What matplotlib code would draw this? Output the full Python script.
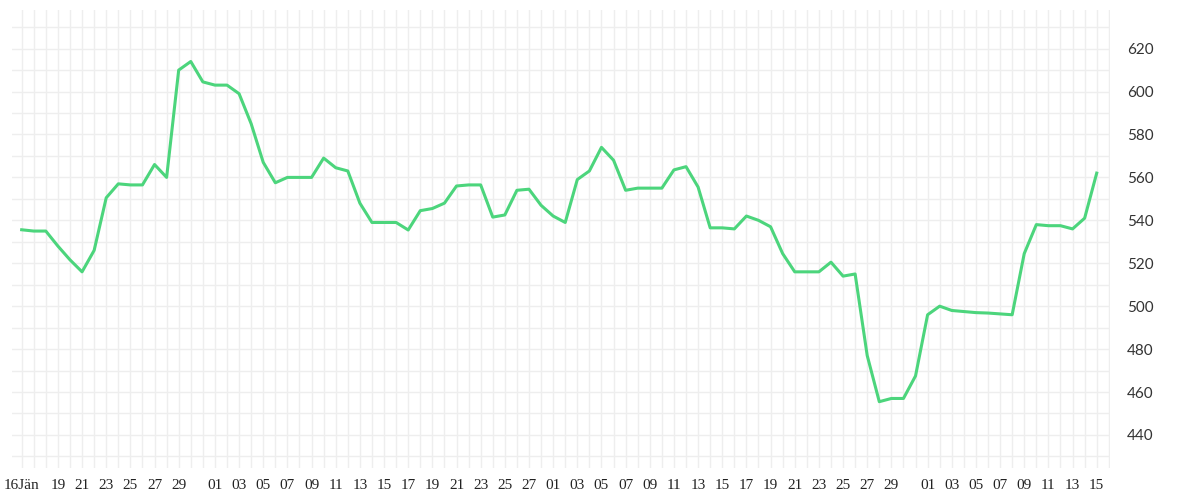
import numpy as np
import pandas as pd
import matplotlib.pyplot as plt
from matplotlib.ticker import MultipleLocator, FixedLocator

dates = pd.date_range('2023-01-16', '2023-04-15', freq='D')
prices = [
    # Jan 16-31
    535.6, 535, 535, 528, 521.6, 516, 526, 550.5, 557, 556.5, 556.5, 566, 560, 610, 614, 604.5,
    # Feb
    603, 603, 599, 585, 567, 557.5, 560, 560, 560, 569, 564.5, 563, 548, 539, 539, 539,
    535.5, 544.5, 545.5, 548, 556, 556.5, 556.5, 541.5, 542.5, 554, 554.5, 547,
    # Mar
    542, 539, 559, 563, 574, 568, 554, 555, 555, 555, 563.5, 565, 555.5, 536.5, 536.5, 536,
    542, 540, 537, 524.5, 516, 516, 516, 520.5, 514, 515, 477, 455.5, 457, 457, 467.5,
    # Apr 1-15
    496, 500, 498, 497.5, 497, 496.8, 496.4, 496, 524.5, 538, 537.5, 537.5, 536, 541, 562,
]

x = np.arange(len(dates))
tick_pos = []
tick_lab = []
for i, d in enumerate(dates):
    if i == 0:
        tick_pos.append(i)
        tick_lab.append('16Jän')
    elif d.day % 2 == 1 and d.day != 31 and i > 1:
        tick_pos.append(i)
        tick_lab.append('%02d' % d.day)

fig = plt.figure(figsize=(12, 5), dpi=100)
ax = fig.add_axes([0.010, 0.064, 0.915, 0.916])
ax.plot(x, prices, color='#4cd57c', lw=2.2, zorder=3)

ax.set_xlim(-0.8, len(dates) - 1 + 1.1)
ax.set_ylim(424.6, 638)
ax.xaxis.set_minor_locator(MultipleLocator(1))
ax.xaxis.set_major_locator(FixedLocator(tick_pos))
ax.set_xticklabels(tick_lab, fontfamily='Liberation Serif', fontsize=11, color='#222222')
ax.yaxis.set_minor_locator(MultipleLocator(10))
ax.yaxis.set_major_locator(MultipleLocator(20))
ax.yaxis.tick_right()
for lab in ax.get_yticklabels():
    lab.set_fontfamily('Lato')
ax.tick_params(axis='y', which='both', length=0, labelsize=11, labelcolor='#333333', pad=12)
ax.tick_params(axis='x', which='both', length=0, pad=8)
ax.grid(True, which='both', color='#eeeeee', lw=1)
for s in ax.spines.values():
    s.set_visible(False)

fig.savefig('out.png')
